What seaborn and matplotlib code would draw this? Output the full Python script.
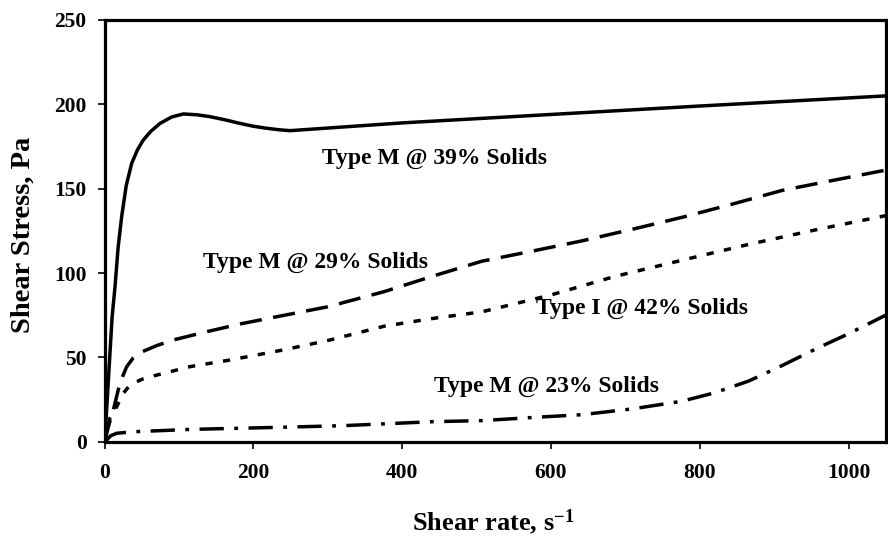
import numpy as np
import pandas as pd
import seaborn as sns
import matplotlib
matplotlib.use("Agg")
import matplotlib.pyplot as plt

# ---- data ----
m39_x = [0, 3, 7, 10, 13.9, 18, 22.8, 29, 36.3, 44, 52, 62, 74.4, 90, 105.7,
         124, 141.6, 162, 181.9, 200, 217.9, 235, 249.2, 400, 600, 800, 1050]
m39_y = [0, 22, 52, 74, 92, 115, 133.4, 152, 165, 173, 178.9, 184, 188.7, 192.5, 194.3,
         193.8, 192.7, 190.8, 188.7, 187, 185.8, 184.9, 184.4, 189, 194, 199, 205]

m29_x = [0, 4.9, 11.6, 20.6, 29.6, 38, 47.5, 70, 92, 137, 182, 231.4, 300, 376,
         440, 507, 575, 641, 710, 776, 845, 911, 980, 1050]
m29_y = [0, 8.9, 18.8, 35, 44.5, 49.5, 52.8, 57, 60.3, 65.2, 69.8, 74.1, 80, 89,
         98, 107, 113, 119, 126, 133, 141, 149, 155, 161]

i42_x = [0, 7, 13.9, 25, 34, 50, 70, 114.7, 168, 240, 300, 376, 440, 507, 600,
         686, 780, 866, 960, 1050]
i42_y = [0, 14, 18.8, 28.7, 33.6, 37, 39.5, 44.5, 48.4, 54.4, 60, 68.5, 73, 77, 87,
         98, 108, 117, 126, 134]

m23_x = [0, 2.7, 8, 16, 38.5, 114.7, 231, 320, 442, 507, 580, 641, 710, 776,
         820, 866, 910, 956, 1000, 1050]
m23_y = [0, 1, 3.5, 5, 5.9, 7.3, 8.5, 9.5, 11.9, 12.5, 14.5, 16, 19.5, 24,
         29, 36, 45, 55, 64, 75]

series_names = ["Type M @ 39% Solids", "Type M @ 29% Solids",
                "Type I @ 42% Solids", "Type M @ 23% Solids"]
label_x = [443, 284, 722, 594]
label_y = [168, 106, 79, 33]

x_ticks = [0, 200, 400, 600, 800, 1000]
y_ticks = [0, 50, 100, 150, 200, 250]

frames = []
for name, xs, ys in zip(series_names, [m39_x, m29_x, i42_x, m23_x],
                        [m39_y, m29_y, i42_y, m23_y]):
    frames.append(pd.DataFrame({"rate": xs, "stress": ys, "series": name}))
df = pd.concat(frames, ignore_index=True)

sns.set_theme(style="white")
plt.rcParams["font.family"] = ["Liberation Serif", "DejaVu Serif"]
plt.rcParams["font.weight"] = "bold"
plt.rcParams["text.color"] = "black"
plt.rcParams["axes.labelcolor"] = "black"
plt.rcParams["xtick.color"] = "black"
plt.rcParams["ytick.color"] = "black"
plt.rcParams["mathtext.fontset"] = "custom"
plt.rcParams["mathtext.rm"] = "Liberation Serif:bold"
plt.rcParams["mathtext.it"] = "Liberation Serif:bold"
plt.rcParams["mathtext.bf"] = "Liberation Serif:bold"
plt.rcParams["mathtext.default"] = "rm"

fig = plt.figure(figsize=(8.88, 5.36), dpi=100)
ax = fig.add_axes([0.1179, 0.1759, 0.9974 - 0.1179, 0.9627 - 0.1759])

dash_styles = {
    "Type M @ 39% Solids": "",
    "Type M @ 29% Solids": (6.4, 3.3),
    "Type I @ 42% Solids": (2.1, 3.0),
    "Type M @ 23% Solids": (7, 3, 1.1, 3),
}
sns.lineplot(data=df, x="rate", y="stress", hue="series", style="series",
             palette=["black"] * 4, dashes=dash_styles, linewidth=2.5,
             legend=False, ax=ax, sort=False, estimator=None)

for name, lx, ly in zip(series_names, label_x, label_y):
    ax.text(lx, ly, name, ha="center", va="center", fontsize=17,
            fontweight="bold", color="black")

ax.set_xlim(0, 1050)
ax.set_ylim(0, 250)
ax.set_xticks(x_ticks)
ax.set_yticks(y_ticks)
ax.tick_params(axis="both", which="both", direction="out", length=5, width=1.2,
               colors="black", labelsize=15.5, bottom=True, left=True)
ax.tick_params(axis="x", pad=10)
ax.tick_params(axis="y", pad=8)
for lab in ax.get_xticklabels() + ax.get_yticklabels():
    lab.set_fontweight("bold")
for sp in ax.spines.values():
    sp.set_visible(True)
    sp.set_color("black")
    sp.set_linewidth(2.3)

ax.set_xlabel("Shear rate, s$^{-1}$", fontsize=19, fontweight="bold")
ax.set_ylabel("Shear Stress, Pa", fontsize=20.5, fontweight="bold")
ax.xaxis.set_label_coords(0.4975, -0.155)
ax.yaxis.set_label_coords(-0.088, 0.49)

fig.savefig("out.png", dpi=100)
